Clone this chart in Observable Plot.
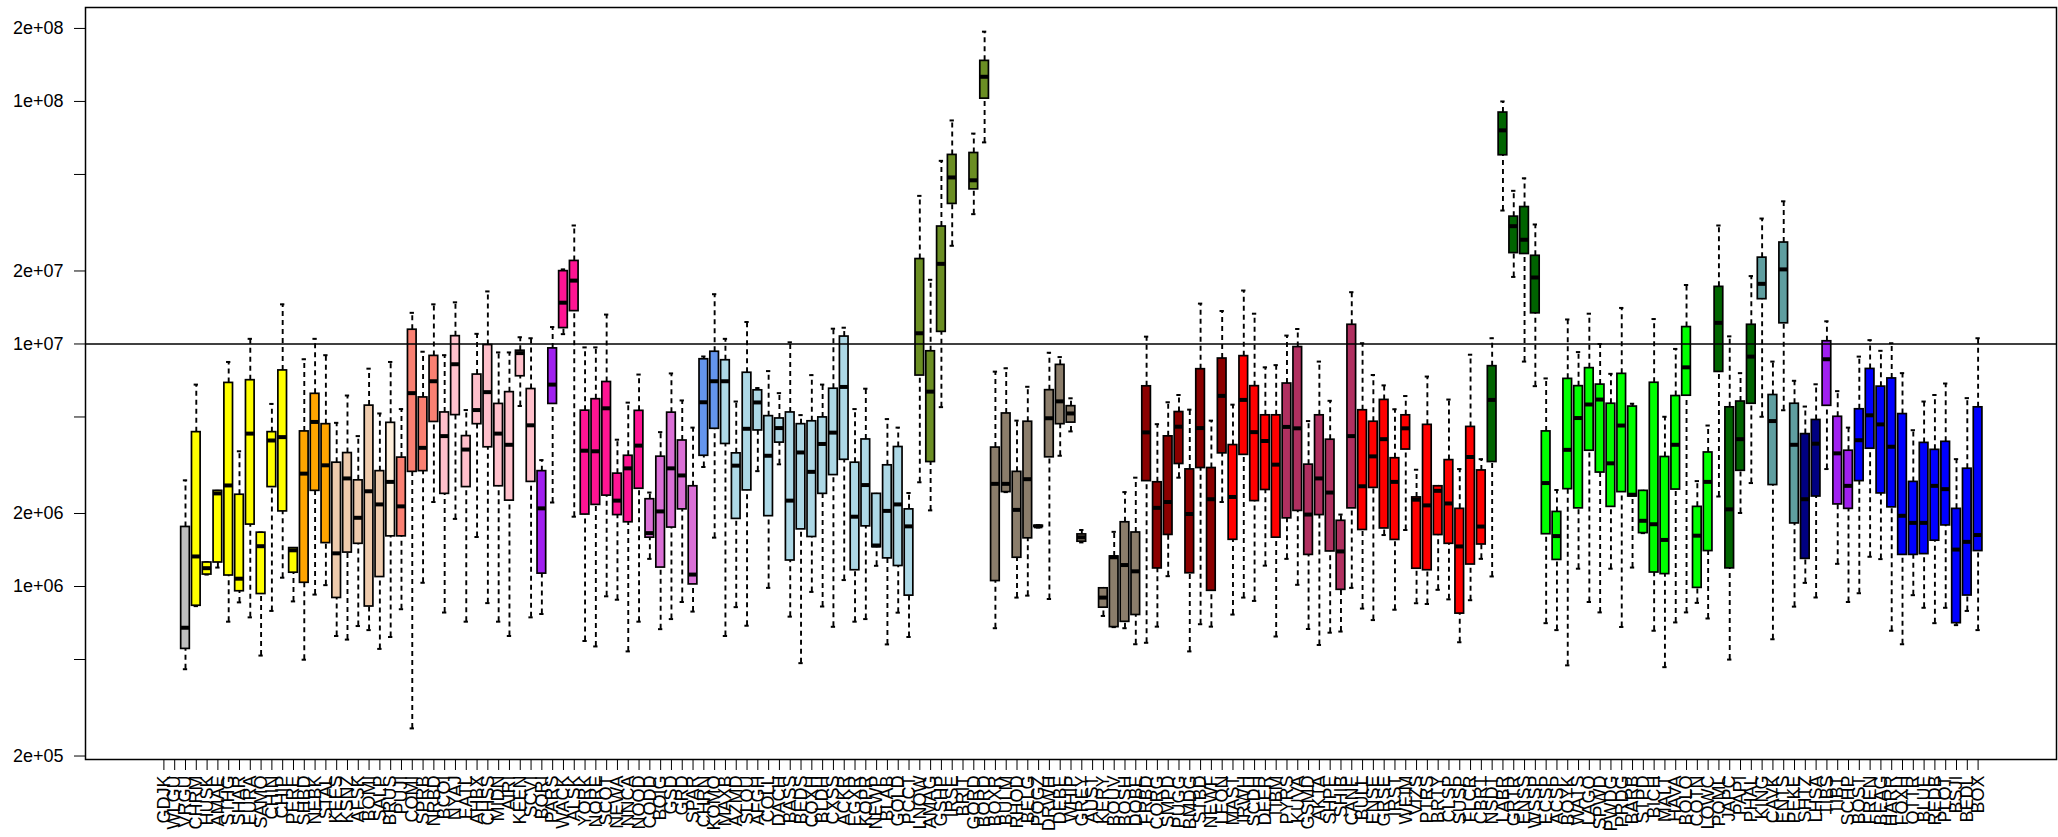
<!DOCTYPE html>
<html><head><meta charset="utf-8">
<script src="https://cdn.jsdelivr.net/npm/d3@7"></script>
<script src="https://cdn.jsdelivr.net/npm/@observablehq/plot@0.6"></script>
<style>html,body{margin:0;padding:0;background:#fff;} svg{display:block}</style>
</head><body><div id="chart"></div>
<script>
const labels = ["GDJK","WLGU","VRGU","CHRM","HUSK","AMAE","STHG","SHAR","EURA","SAMO","CHIN","CHIP","PERE","SHBD","NEBK","STAL","KEES","KSNZ","AFSK","BOMI","SALP","BRUS","PUJI","COMI","SPRB","NRBD","BCOI","NYAJ","EATL","AHBX","CHSS","MIDN","AIRI","KEEN","SCVI","BORI","PARS","WACK","ALSK","YORK","NORE","SCOT","NEWA","NNCA","NOOD","CODD","BOIG","GSD","GRD","SPAR","CHRN","KOMO","MAXB","AZMD","SLOU","AFGH","COLL","DACH","BASS","BEDS","COXH","BLDH","CXSS","ACKR","EGXR","KOPR","NEWP","BLAB","GOLD","PCCT","LNOW","AMAG","GSHP","IRSE","BRIT","GORD","BORD","BOXR","BULM","RHOD","BELG","POGZ","DRWH","DEBE","WHIP","GREY","AUST","KERY","BOUV","BOSH","DOBE","FRBD","CORG","SMPD","PUGG","BMDG","STBD","NEWF","LEON","MAST","IRWH","SCDH","DEER","TIBM","PYRS","KUVA","GSMD","AKTA","SHPE","SHIB","CANE","BULL","ENSE","GRSE","IRST","WEIM","VIZS","PTRS","BRTY","CLSP","SUSP","FLCR","CBRT","NSDT","LABR","GRTR","ENSS","WSSP","ECSP","ACSP","BOYK","WATS","LAGO","SPWD","PWDG","PRDG","BARB","STPD","BICH","MALT","HAVA","BOLO","COTN","LOWC","POML","JAPC","PAPI","PHAL","KING","CAVK","ENTS","PEKE","SHTZ","LHSA","TIBS","TIBT","SCHP","BOST","FREN","BEAG","HARR","FOXH","OTTR","BLUE","REDB","PLOT","BSJI","BEDL","BOX"];
// box statistics in millions, null = no data
const whiskerLow = [null,null,0.456,0.83,1.12,1.197,0.716,0.86,0.746,0.519,0.793,1.087,0.868,0.499,0.926,1.013,0.625,0.604,0.687,0.661,0.553,0.619,0.806,0.26,1.036,2.23,0.781,1.9,0.716,1.6,0.854,0.716,0.625,5.55,0.746,0.77,2.22,10.98,1.94,0.596,0.566,0.911,0.882,0.54,0.716,1.3,0.667,0.734,0.863,0.788,3.11,1.59,0.625,0.822,0.689,2.99,0.987,3.19,0.751,0.483,0.95,0.827,0.682,1.063,0.716,0.734,1.217,0.577,0.78,0.619,2.69,2.06,5.49,25.4,null,34.3,67.8,0.673,2.45,0.9,0.917,1.75,0.888,3.46,4.36,1.52,null,0.756,0.68,0.673,0.578,0.586,0.683,1.103,2.81,0.54,0.699,0.683,2.23,0.766,0.9,0.872,1.219,0.622,1.3,1.016,0.668,0.574,0.645,0.652,0.987,0.811,0.727,1.63,0.802,1.71,0.853,0.847,0.969,0.885,0.589,0.878,1.3,1.1,35.5,18.9,8.46,6.7,0.706,0.661,0.473,1.184,0.863,0.782,1.184,0.681,1.197,1.66,0.657,0.465,0.711,0.782,0.856,0.738,2.35,0.4996,2.01,2.67,5.01,0.606,5.33,0.826,1.035,0.901,3.05,1.24,0.863,0.938,1.326,1.297,0.657,0.578,0.921,0.817,0.706,0.817,0.693,0.793,0.661];
const lowerQuartile = [null,null,0.553,0.833,1.12,1.256,1.11,0.956,1.8,0.931,2.57,2.04,1.14,1.036,2.48,1.51,0.897,1.38,1.5,0.827,1.094,1.61,1.61,2.97,2.99,4.77,2.41,5.09,2.57,4.67,3.75,2.59,2.26,7.36,2.7,1.13,5.66,11.63,13.66,1.98,2.17,2.37,1.97,1.84,2.53,1.59,1.197,1.75,2.08,1.02,3.46,4.47,3.87,1.9,2.49,4.4,1.95,3.92,1.28,1.72,1.6,2.41,2.88,3.33,1.167,1.77,1.453,1.306,1.215,0.917,7.41,3.26,11.22,37.8,null,43.4,102.7,1.053,2.45,1.314,1.58,1.76,3.41,4.67,4.74,1.53,null,0.818,0.68,0.715,0.763,2.72,1.187,1.632,3.2,1.134,3.08,0.96,3.54,1.558,3.49,2.25,2.5,1.59,1.91,2.05,1.35,1.97,1.395,0.969,2.1,1.71,2.55,1.735,1.556,3.67,1.184,1.167,1.63,1.5,0.773,1.232,1.49,3.26,60,23.7,23.5,13.38,1.643,1.287,2.52,2.1,3.63,2.95,2.13,2.45,2.35,1.66,1.142,1.125,2.51,6.12,0.987,1.4,7.67,1.188,3.0,5.67,15.3,2.62,12.17,1.82,1.3,2.35,5.56,2.18,2.09,2.72,3.7,2.42,2.12,1.35,1.35,1.36,1.545,1.786,0.706,0.918,1.4];
const medianValue = [null,null,0.676,1.33,1.19,2.42,2.61,1.077,4.27,1.466,4.0,4.13,1.41,2.92,4.77,3.16,1.37,2.79,1.92,2.47,2.18,2.7,2.14,6.27,3.73,7.02,4.17,8.25,3.67,5.34,6.33,4.27,3.84,9.17,4.62,2.1,6.8,14.8,18.25,3.63,3.61,5.43,2.26,3.07,3.81,1.66,2.04,3.07,2.87,1.12,5.75,7.02,7.02,3.15,4.47,5.74,3.46,4.5,2.26,3.57,2.97,3.87,4.31,6.65,1.94,2.62,1.476,2.05,2.18,1.77,11.07,6.36,21.4,48.6,null,47.3,126.4,2.65,2.65,2.07,2.77,1.77,4.94,5.8,5.17,1.595,null,0.9,1.32,1.226,1.155,4.32,2.11,2.23,4.56,1.99,4.5,2.29,6.11,2.34,5.88,4.33,3.98,3.18,4.55,4.49,1.98,2.79,2.44,1.395,4.17,2.59,3.44,4.05,2.7,4.49,2.28,2.16,2.48,2.2,1.463,3.42,1.767,5.88,76,30.6,26.9,18.8,2.67,1.614,3.66,4.95,5.63,5.9,3.22,4.61,2.39,1.866,1.806,1.556,3.84,8.01,1.62,2.7,12.22,2.08,4.05,8.87,17.7,4.81,20.3,3.84,2.29,3.88,8.65,3.54,2.6,4.01,5.08,4.66,3.77,1.957,1.83,1.83,2.6,2.52,1.42,1.528,1.63];
const upperQuartile = [null,null,1.76,4.33,1.256,2.48,6.91,2.39,7.09,1.667,4.33,7.78,1.44,4.36,6.23,4.67,3.24,3.55,2.74,5.57,2.99,4.73,3.4,11.45,6.02,8.93,5.22,10.77,4.17,7.48,9.9,5.66,6.33,9.38,6.52,2.99,9.59,19.97,22.0,5.31,5.92,6.97,2.92,3.46,5.3,2.29,3.43,5.21,4.0,2.59,8.65,9.29,8.57,3.54,7.61,6.44,5.04,4.93,5.22,4.67,4.8,4.98,6.54,10.73,3.24,4.04,2.41,3.16,3.76,2.08,22.4,9.33,30.5,60.2,null,61.3,147,3.74,5.17,2.97,4.78,1.78,6.45,8.2,5.54,1.64,null,0.983,1.33,1.84,1.67,6.69,2.69,4.16,5.24,3.04,7.87,3.08,8.71,3.83,8.91,6.7,5.08,5.08,6.87,9.71,3.18,5.08,4.03,1.866,12.0,5.33,4.78,5.88,3.38,5.08,2.33,4.64,2.59,3.32,2.09,4.55,3.01,8.1,90,33.5,36.7,23.1,4.36,2.03,7.18,6.7,7.95,6.8,5.67,7.53,5.52,2.48,6.92,3.42,6.1,11.74,2.13,3.57,17.2,5.48,5.79,12.0,22.7,6.16,26.2,5.67,4.25,4.86,10.26,5.01,3.63,5.38,7.89,6.67,7.21,5.14,2.7,3.91,3.66,3.95,2.09,3.06,5.48];
const whiskerHigh = [null,null,2.74,6.8,1.26,2.48,8.43,3.61,10.5,1.67,5.66,14.57,1.44,8.65,10.5,8.99,4.73,6.13,4.17,7.91,5.17,8.43,5.39,13.44,9.29,14.57,8.99,14.85,5.34,11.01,16.47,9.23,9.23,10.66,10.56,3.32,11.74,20.3,30.8,9.68,9.68,13.22,4.03,5.73,7.48,2.44,4.33,7.56,5.85,4.52,8.88,16.04,10.5,5.79,12.32,6.58,7.73,6.27,10.16,5.09,7.44,6.8,11.56,11.67,5.39,6.54,2.41,4.9,4.52,2.43,40.8,18.39,56.9,83.5,null,73.7,194,7.69,7.94,4.83,6.66,1.79,9.2,8.83,5.97,1.71,null,0.983,1.68,2.45,2.81,10.72,4.67,5.75,6.16,5.36,14.67,4.83,13.68,5.62,16.61,13.33,8.01,8.18,10.83,11.53,4.81,8.46,5.83,1.98,16.35,10.07,7.45,6.75,5.38,6.1,3.03,7.34,2.59,5.9,3.05,9.03,3.35,10.56,100,42.8,48.2,31.1,7.21,2.5,12.62,9.26,13.33,10.0,7.53,14.08,5.67,2.48,12.67,5.01,9.54,17.51,2.72,4.61,30.8,10.75,7.58,19.05,32.9,8.46,38.75,7.05,5.52,6.82,12.4,6.39,4.52,8.87,10.37,9.37,10.07,7.58,4.41,5.79,6.16,6.87,3.35,5.98,10.56];
const yTicks = [2e5,5e5,1e6,2e6,5e6,1e7,2e7,5e7,1e8,2e8];
const referenceLine = [1e7];

// fill colours, as runs of consecutive categories
const colorRuns = [["#BEBEBE",3],["#FFFF00",10],["#FFA500",3],["#EECBAD",5],["#FFEFDB",1],["#FA8072",4],["#FFC0CB",9],["#A020F0",2],["#FF1493",8],["#DA70D6",5],["#6495ED",2],["#ADD8E6",18],["#6B8E23",7],["#8B7D6B",14],["#8B0000",8],["#FF0000",5],["#B03060",7],["#FF0000",12],["#006400",5],["#00FF00",16],["#006400",4],["#5F9EA0",4],["#000080",2],["#A020F0",3],["#0000FF",12]];
const fills = colorRuns.flatMap(([c, k]) => Array(k).fill(c));

const n = labels.length;
const rows = labels.map((label, i) => ({
  i, label,
  wl: whiskerLow[i] == null ? null : whiskerLow[i] * 1e6,
  q1: lowerQuartile[i] == null ? null : lowerQuartile[i] * 1e6,
  med: medianValue[i] == null ? null : medianValue[i] * 1e6,
  q3: upperQuartile[i] == null ? null : upperQuartile[i] * 1e6,
  wh: whiskerHigh[i] == null ? null : whiskerHigh[i] * 1e6,
  fill: fills[i]
})).filter(d => d.med != null);

const pad = 0.04 * n;
const half = 0.4, cap = 0.2;
const fmt = v => { const e = Math.floor(Math.log10(v) + 1e-9); const m = Math.round(v / 10 ** e); return `${m}e+${String(e).padStart(2, "0")}`; };

const chart = Plot.plot({
  width: 2058, height: 837,
  marginLeft: 85, marginRight: 2, marginTop: 7, marginBottom: 78,
  style: {fontFamily: "'Liberation Sans', Arial, Helvetica, sans-serif", fontSize: "18px", background: "#fff", color: "#000"},
  x: {type: "linear", domain: [-0.5 - pad, n - 0.5 + pad]},
  y: {type: "log", domain: [1.935e5, 2.44e8]},
  color: {type: "identity"},
  marks: [
    Plot.ruleX(rows, {x: "i", y1: "q3", y2: "wh", stroke: "#000", strokeWidth: 1.9, strokeDasharray: "5,4"}),
    Plot.ruleX(rows, {x: "i", y1: "wl", y2: "q1", stroke: "#000", strokeWidth: 1.9, strokeDasharray: "5,4"}),
    Plot.ruleY(rows, {y: "wh", x1: d => d.i - cap, x2: d => d.i + cap, stroke: "#000", strokeWidth: 2}),
    Plot.ruleY(rows, {y: "wl", x1: d => d.i - cap, x2: d => d.i + cap, stroke: "#000", strokeWidth: 2}),
    Plot.rect(rows, {x1: d => d.i - half, x2: d => d.i + half, y1: "q1", y2: "q3", fill: "fill", stroke: "#000", strokeWidth: 1.7}),
    Plot.ruleY(rows, {y: "med", x1: d => d.i - half, x2: d => d.i + half, stroke: "#000", strokeWidth: 4}),
    Plot.ruleY(referenceLine, {stroke: "#000", strokeWidth: 1.5}),
    Plot.frame({stroke: "#000", strokeWidth: 1.5}),
    Plot.axisY({ticks: yTicks, tickFormat: fmt, tickSize: 11, tickPadding: 11, fontSize: 18, label: null, stroke: "#000"}),
    Plot.axisX({ticks: d3.range(n), tickFormat: i => labels[i], tickRotate: -90, tickSize: 11, tickPadding: 5, fontSize: 18, label: null, stroke: "#000"})
  ]
});
document.getElementById("chart").append(chart);
</script>
</body></html>
